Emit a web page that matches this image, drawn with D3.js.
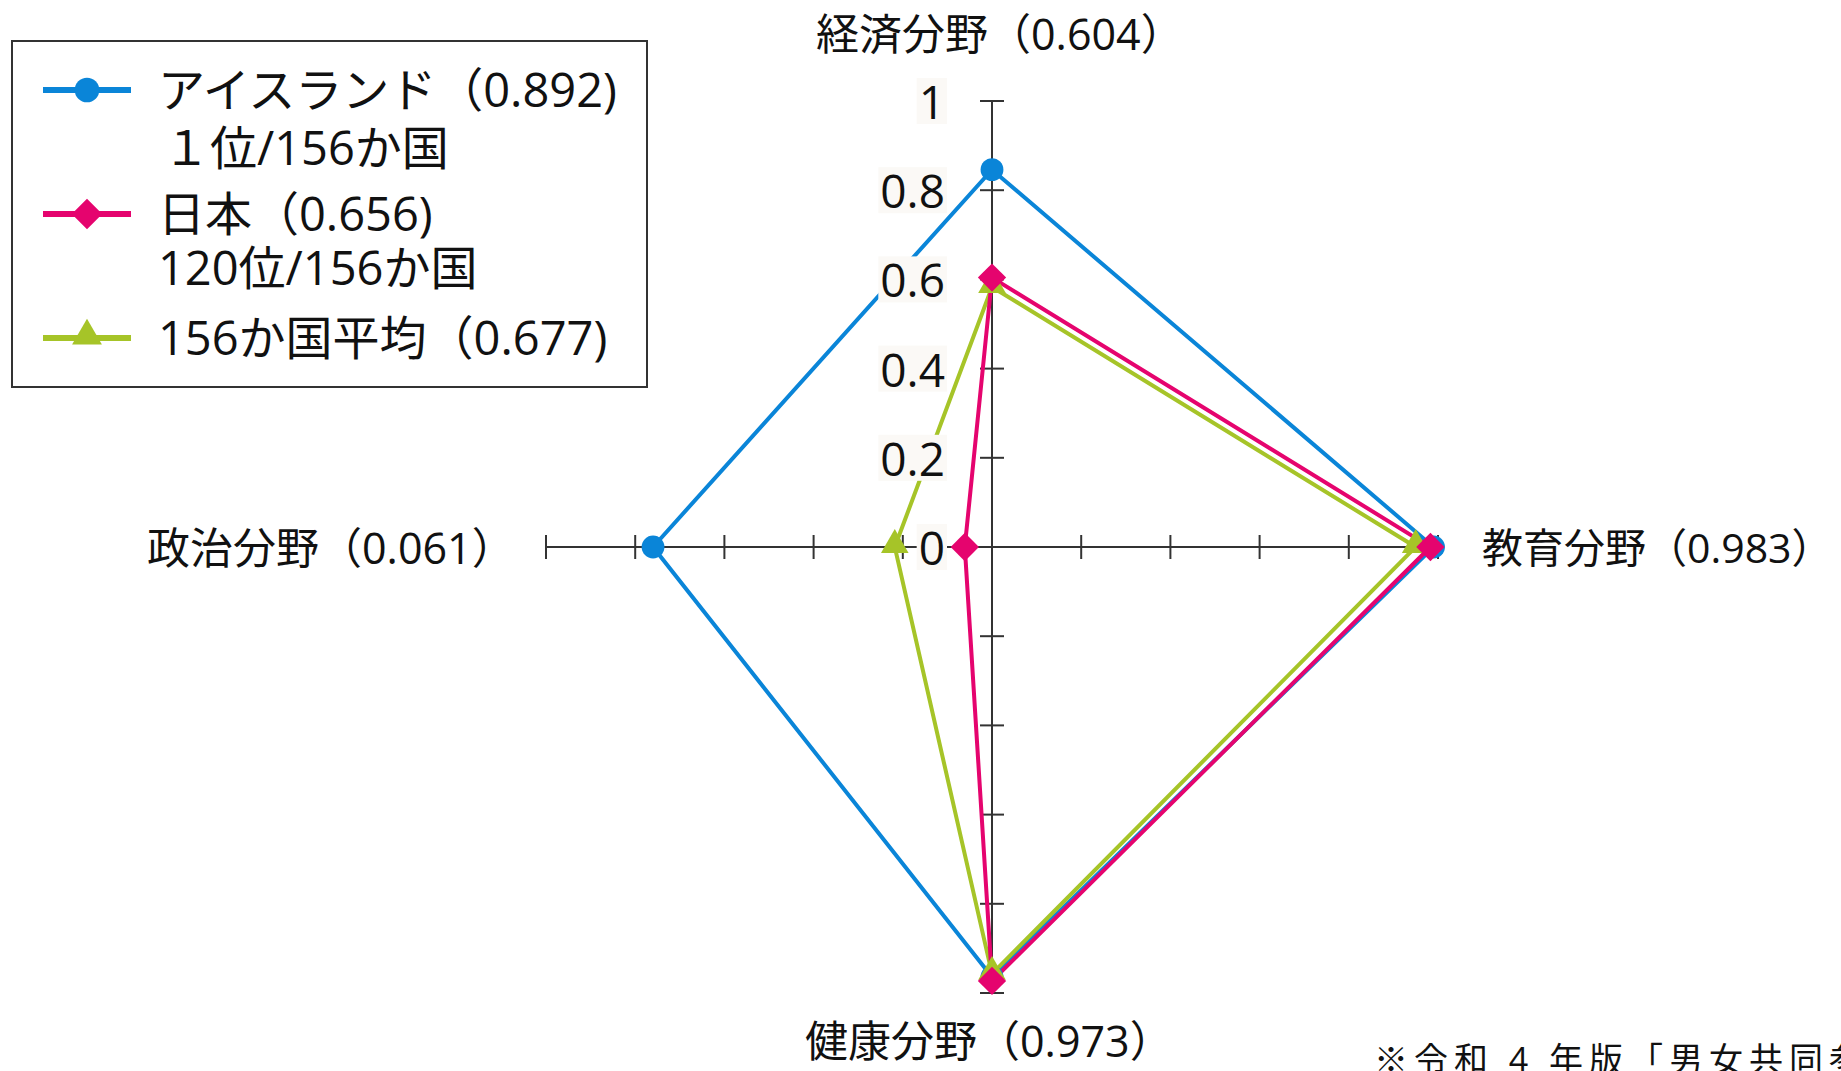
<!DOCTYPE html>
<html>
<head>
<meta charset="utf-8">
<script src="https://cdn.jsdelivr.net/npm/d3@7"></script>
<style>
  html, body { margin: 0; padding: 0; background: #ffffff; overflow: hidden; }
  svg { display: block; font-family: "Open Sans", "Noto Sans CJK JP", sans-serif; }
</style>
</head>
<body>
<svg id="chart" width="1841" height="1071"></svg>
<script>
// ---- data ----
const axisNames = ["経済分野", "教育分野", "健康分野", "政治分野"];
const axisScores = ["0.604", "0.983", "0.973", "0.061"];
const seriesNames = ["アイスランド（0.892)", "日本（0.656)", "156か国平均（0.677)"];
const seriesSubs = ["１位/156か国", "120位/156か国", ""];
const iceland = [0.846, 0.99, 0.964, 0.760];
const japan = [0.604, 0.983, 0.973, 0.061];
const average = [0.583, 0.950, 0.957, 0.218];
const tickValues = [0, 0.2, 0.4, 0.6, 0.8, 1];
const tickLabels = ["0", "0.2", "0.4", "0.6", "0.8", "1"];
const footnote = "※令和 4 年版「男女共同参画白書」より";

// ---- layout ----
const svg = d3.select("#chart");
const cx = 992, cy = 547, R = 446;
const colors = ["#0a85d8", "#e5046e", "#a6c428"];
const r = d3.scaleLinear().domain([0, 1]).range([0, R]);
const angle = d3.scaleLinear().domain([0, axisNames.length]).range([0, 2 * Math.PI]);

function marker(sel, si, scale) {
  if (si === 0) {
    sel.append("path").attr("d", d3.symbol().type(d3.symbolCircle).size(410 * scale * scale)())
      .attr("fill", colors[si]);
  } else if (si === 1) {
    sel.append("path").attr("d", d3.symbol().type(d3.symbolSquare).size(400 * scale * scale)())
      .attr("transform", "rotate(45)").attr("fill", colors[si]);
  } else {
    sel.append("path").attr("d", d3.symbol().type(d3.symbolTriangle).size(330 * scale * scale)())
      .attr("transform", "translate(0,-2)").attr("fill", colors[si]);
  }
}

const g = svg.append("g").attr("transform", `translate(${cx},${cy})`);

// axes
const axisColor = "#333333";
axisNames.forEach((name, i) => {
  const a = angle(i);
  const ex = Math.sin(a) * r(1), ey = -Math.cos(a) * r(1);
  g.append("line").attr("x1", 0).attr("y1", 0).attr("x2", ex).attr("y2", ey)
    .attr("stroke", axisColor).attr("stroke-width", 2);
  tickValues.filter(v => v > 0).forEach(v => {
    const px = Math.sin(a) * r(v), py = -Math.cos(a) * r(v);
    const nx = Math.cos(a) * 12, ny = Math.sin(a) * 12;
    g.append("line").attr("x1", px - nx).attr("y1", py - ny)
      .attr("x2", px + nx).attr("y2", py + ny)
      .attr("stroke", axisColor).attr("stroke-width", 2);
  });
});

// series
const allSeries = [iceland, japan, average];
const drawOrder = [0, 2, 1];
const lineR = d3.lineRadial().angle((d, i) => angle(i)).radius(d => r(d)).curve(d3.curveLinearClosed);
drawOrder.forEach(si => {
  g.append("path").attr("d", lineR(allSeries[si])).attr("fill", "none")
    .attr("stroke", colors[si]).attr("stroke-width", 4).attr("stroke-linejoin", "miter");
});

// tick labels (with faint background, on top of lines)
const tl = g.append("g");
tickValues.forEach((v, i) => {
  const t = tl.append("text").attr("x", -47).attr("y", -r(v))
    .attr("text-anchor", "end").attr("dominant-baseline", "central")
    .attr("font-size", 46).attr("fill", "#111").text(tickLabels[i]);
  const bb = t.node().getBBox();
  tl.insert("rect", "text").attr("x", bb.x - 2).attr("y", bb.y + 8)
    .attr("width", bb.width + 4).attr("height", bb.height - 16).attr("fill", "#fbf9f6");
});
tl.selectAll("text").raise();

// markers
drawOrder.forEach(si => {
  allSeries[si].forEach((v, i) => {
    const a = angle(i);
    const m = g.append("g").attr("transform", `translate(${Math.sin(a) * r(v)},${-Math.cos(a) * r(v)})`);
    marker(m, si, 1);
  });
});

// axis labels
const labelPos = [
  { x: 816, y: 33, size: 43 },
  { x: 1482, y: cy, size: 41 },
  { x: 805, y: 1040, size: 43 },
  { x: 147, y: cy, size: 43 }
];
axisNames.forEach((name, i) => {
  svg.append("text").attr("x", labelPos[i].x).attr("y", labelPos[i].y)
    .attr("text-anchor", "start").attr("dominant-baseline", "central")
    .attr("font-size", labelPos[i].size).attr("fill", "#111")
    .text(`${name}（${axisScores[i]}）`);
});

// legend
const lg = svg.append("g");
lg.append("rect").attr("x", 12).attr("y", 41).attr("width", 635).attr("height", 346)
  .attr("fill", "#fff").attr("stroke", "#333").attr("stroke-width", 2);
const legY = [90, 214, 338];
const subDy = [58, 54, 0];
seriesNames.forEach((name, si) => {
  lg.append("line").attr("x1", 43).attr("x2", 131).attr("y1", legY[si]).attr("y2", legY[si])
    .attr("stroke", colors[si]).attr("stroke-width", 6);
  const m = lg.append("g").attr("transform", `translate(87,${legY[si]})`);
  marker(m, si, 1.08);
  const t = lg.append("text").attr("font-size", 47).attr("fill", "#111");
  t.append("tspan").attr("x", 158).attr("y", legY[si] + 17).text(name);
  if (seriesSubs[si]) {
    t.append("tspan").attr("x", si === 0 ? 163 : 158).attr("dy", subDy[si]).text(seriesSubs[si]);
  }
});

// footnote (runs off the right edge as in the source)
svg.append("text").attr("x", 1374).attr("y", 1072)
  .attr("font-size", 34).attr("letter-spacing", 6).attr("fill", "#111")
  .text(footnote);
</script>
</body>
</html>
